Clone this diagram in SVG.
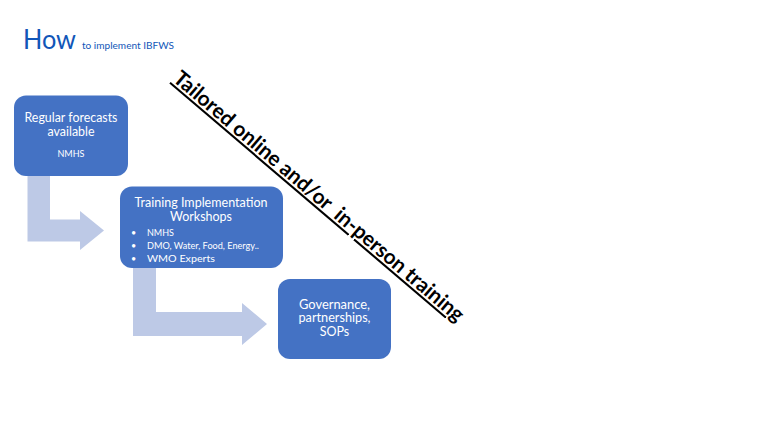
<svg xmlns="http://www.w3.org/2000/svg" width="768" height="432" viewBox="0 0 768 432">
<style>
.box{fill:#4472C4;}
.arrow{fill:#BDC9E6;}
.t{font-family:Lato,"Open Sans","Liberation Sans",sans-serif;fill:#FFFFFF;}
.big{font-size:12.5px;}
.small{font-size:9px;}
</style>
<rect width="768" height="432" fill="#FFFFFF"/>
<g id="title">
<text x="23" y="49" font-family="Lato,'Open Sans','Liberation Sans',sans-serif" font-size="26" fill="#1156B8" textLength="53" lengthAdjust="spacingAndGlyphs">How</text>
<text x="82" y="49" font-family="Lato,'Open Sans','Liberation Sans',sans-serif" font-size="10" fill="#1156B8" textLength="92" lengthAdjust="spacingAndGlyphs">to implement IBFWS</text>
</g>
<g id="connectors">
<path class="arrow" d="M27.5,176 H50 V219.5 H80 V211 L104,230.5 L80,250 V241.5 H27.5 Z"/>
<path class="arrow" d="M133,268 H156 V312 H242 V303 L267,324 L242,345 V336 H133 Z"/>
</g>
<g id="node-forecasts">
<rect class="box" x="14" y="95.5" width="114" height="80.5" rx="12"/>
<text class="t big" x="71" y="121.5" text-anchor="middle" textLength="93" lengthAdjust="spacingAndGlyphs">Regular forecasts</text>
<text class="t big" x="71" y="136" text-anchor="middle" textLength="47" lengthAdjust="spacingAndGlyphs">available</text>
<text class="t small" x="71" y="157" text-anchor="middle" font-size="8.5">NMHS</text>
</g>
<g id="node-training">
<rect class="box" x="120" y="186.5" width="163" height="81.5" rx="12"/>
<text class="t big" x="201" y="207" text-anchor="middle" textLength="133" lengthAdjust="spacingAndGlyphs">Training Implementation</text>
<text class="t big" x="201" y="220.5" text-anchor="middle" textLength="62" lengthAdjust="spacingAndGlyphs">Workshops</text>
<text class="t small" x="131" y="236">•</text>
<text class="t small" x="147" y="236">NMHS</text>
<text class="t small" x="131" y="249">•</text>
<text class="t small" x="147" y="249" textLength="112" lengthAdjust="spacingAndGlyphs">DMO, Water, Food, Energy..</text>
<text class="t small" x="131" y="262">•</text>
<text class="t small" x="147" y="262" textLength="68" lengthAdjust="spacingAndGlyphs">WMO Experts</text>
</g>
<g id="node-governance">
<rect class="box" x="278" y="279" width="113" height="80" rx="12"/>
<text class="t big" x="334.5" y="308.5" text-anchor="middle" textLength="71" lengthAdjust="spacingAndGlyphs">Governance,</text>
<text class="t big" x="334.5" y="322" text-anchor="middle" textLength="72" lengthAdjust="spacingAndGlyphs">partnerships,</text>
<text class="t big" x="334.5" y="335.5" text-anchor="middle">SOPs</text>
</g>
<g id="label-training">
<text transform="translate(172,80.5) rotate(40.4)" x="0" y="0" font-family="Lato,'Open Sans','Liberation Sans',sans-serif" font-size="21" font-weight="bold" fill="#000000" text-decoration="underline" xml:space="preserve" textLength="374" lengthAdjust="spacingAndGlyphs">Tailored online and/or  in-person training</text>
</g>
</svg>
